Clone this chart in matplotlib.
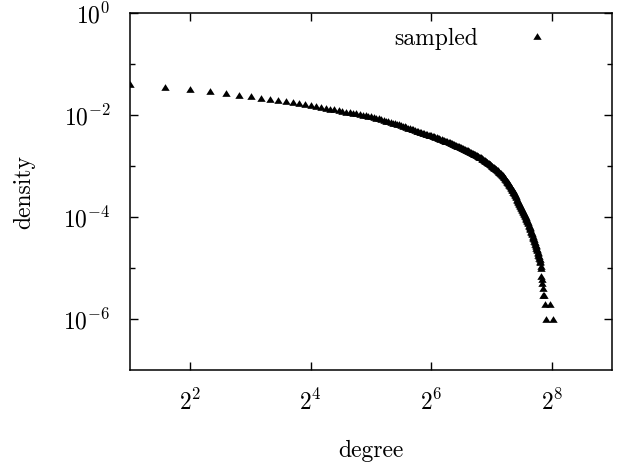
import numpy as np
import matplotlib
matplotlib.use('Agg')
import matplotlib.pyplot as plt
from matplotlib.ticker import FixedLocator, NullLocator, NullFormatter, LogFormatterSciNotation

plt.rcParams['font.family'] = 'serif'
plt.rcParams['font.serif'] = ['cmr10']
plt.rcParams['mathtext.fontset'] = 'cm'
plt.rcParams['axes.formatter.use_mathtext'] = True

# degree distribution, one point per degree 2..226
degree = np.arange(2, 227)
density = [
    0.0408, 0.0352, 0.0321, 0.0297, 0.0272, 0.0251, 0.0237, 0.0221, 0.0208, 0.0197,
    0.0187, 0.0179, 0.0171, 0.0164, 0.0158,
    0.01517, 0.01455, 0.01396, 0.01346, 0.0130, 0.01256, 0.01216, 0.01178, 0.01143, 0.01112,
    0.01081, 0.01052, 0.01026, 0.0100, 0.00977, 0.00955,
    9.25e-3, 8.93e-3, 8.65e-3, 8.37e-3, 8.11e-3, 7.83e-3, 7.59e-3, 7.35e-3,
    7.14e-3, 6.95e-3, 6.76e-3, 6.58e-3, 6.40e-3, 6.22e-3, 6.05e-3, 5.89e-3,
    5.73e-3, 5.57e-3, 5.42e-3, 5.27e-3, 5.13e-3, 4.99e-3, 4.85e-3, 4.72e-3,
    4.62e-3, 4.53e-3, 4.44e-3, 4.35e-3, 4.27e-3, 4.18e-3, 4.09e-3, 4.01e-3,
    3.93e-3, 3.85e-3, 3.77e-3, 3.69e-3, 3.61e-3, 3.54e-3, 3.47e-3,
    3.40e-3, 3.32e-3, 3.25e-3, 3.18e-3, 3.11e-3, 3.05e-3, 2.99e-3, 2.92e-3, 2.86e-3,
    2.80e-3, 2.75e-3, 2.69e-3, 2.64e-3, 2.59e-3, 2.54e-3, 2.49e-3, 2.44e-3, 2.39e-3,
    2.34e-3, 2.30e-3, 2.25e-3, 2.21e-3, 2.16e-3, 2.12e-3, 2.08e-3, 2.04e-3, 2.00e-3, 1.96e-3, 1.92e-3,
    1.88e-3, 1.85e-3, 1.81e-3, 1.77e-3, 1.74e-3, 1.70e-3, 1.67e-3, 1.64e-3, 1.60e-3, 1.57e-3, 1.54e-3, 1.51e-3,
    1.48e-3, 1.44e-3, 1.41e-3, 1.38e-3, 1.35e-3, 1.32e-3, 1.29e-3, 1.26e-3,
    1.23e-3, 1.20e-3, 1.17e-3, 1.14e-3, 1.11e-3, 1.08e-3, 1.06e-3, 1.03e-3, 1.01e-3, 9.82e-4,
    9.57e-4, 9.33e-4, 9.10e-4, 8.89e-4, 8.67e-4, 8.45e-4, 8.24e-4, 8.04e-4, 7.83e-4, 7.66e-4, 7.46e-4, 7.28e-4,
    7.05e-4, 6.82e-4, 6.61e-4, 6.40e-4, 6.19e-4, 6.00e-4, 5.81e-4, 5.62e-4,
    5.41e-4, 5.20e-4, 5.00e-4, 4.81e-4, 4.62e-4, 4.45e-4, 4.28e-4, 4.11e-4, 3.95e-4,
    3.78e-4, 3.62e-4, 3.48e-4, 3.33e-4, 3.18e-4, 3.05e-4, 2.92e-4, 2.80e-4, 2.68e-4,
    2.55e-4, 2.43e-4, 2.31e-4, 2.20e-4, 2.09e-4, 2.00e-4, 1.90e-4, 1.81e-4, 1.72e-4, 1.64e-4,
    1.57e-4, 1.50e-4, 1.44e-4, 1.37e-4, 1.31e-4, 1.26e-4, 1.20e-4,
    1.15e-4, 1.10e-4, 1.05e-4, 1.00e-4, 9.55e-5, 9.12e-5, 8.71e-5, 8.32e-5,
    7.89e-5, 7.50e-5, 7.11e-5, 6.76e-5, 6.41e-5, 6.10e-5, 5.78e-5,
    5.46e-5, 5.15e-5, 4.86e-5, 4.59e-5, 4.34e-5, 4.09e-5, 3.86e-5, 3.65e-5,
    3.43e-5, 3.23e-5, 3.03e-5, 2.86e-5, 2.69e-5, 2.53e-5, 2.38e-5, 2.24e-5,
    2.1e-5, 2.0e-5, 1.8e-5, 1.7e-5, 1.6e-5, 1.5e-5, 1.4e-5, 1.3e-5,
    1.1e-5, 1.0e-5,
]
# sparse tail
tail_degree = [227, 228, 229, 230, 231, 233, 235, 238, 249, 258]
tail_density = [7e-6, 6e-6, 5e-6, 4e-6, 3e-6, 3e-6, 2e-6, 1e-6, 2e-6, 1e-6]

x = np.concatenate([degree, tail_degree])
y = np.concatenate([density, tail_density])

tri = [(-1, -0.8), (1, -0.8), (0, 0.8)]
fs = 17

fig = plt.figure(figsize=(6.23, 4.66), dpi=100)
ax = fig.add_axes([0.2087, 0.206, 0.774, 0.7655])
ax.plot(x, y, linestyle='none', marker=tri, markersize=6, color='black',
        markeredgewidth=0, label='sampled')

ax.set_xscale('log', base=2)
ax.set_yscale('log')
ax.set_xlim(2, 512)
ax.set_ylim(1e-7, 1)

ax.xaxis.set_major_locator(FixedLocator([4, 16, 64, 256]))
ax.xaxis.set_major_formatter(LogFormatterSciNotation(base=2))
ax.xaxis.set_minor_locator(NullLocator())
ax.yaxis.set_major_locator(FixedLocator([1, 1e-2, 1e-4, 1e-6]))
ax.yaxis.set_minor_locator(FixedLocator([1e-1, 1e-3, 1e-5]))
ax.yaxis.set_minor_formatter(NullFormatter())

ax.tick_params(which='both', direction='in', top=True, right=True, labelsize=fs)
ax.tick_params(which='major', length=6, width=1, pad=14)
ax.tick_params(which='minor', length=3.5, width=1)
for s in ax.spines.values():
    s.set_linewidth(1.1)

ax.set_xlabel('degree', fontsize=fs, labelpad=18)
ax.set_ylabel('density', fontsize=fs, labelpad=20)

ax.legend(loc='upper right', bbox_to_anchor=(0.893, 0.96), frameon=False,
          markerfirst=False, handletextpad=1.5, handlelength=2, borderpad=0,
          borderaxespad=0, fontsize=fs, numpoints=1)

fig.savefig('out.png', dpi=100)
